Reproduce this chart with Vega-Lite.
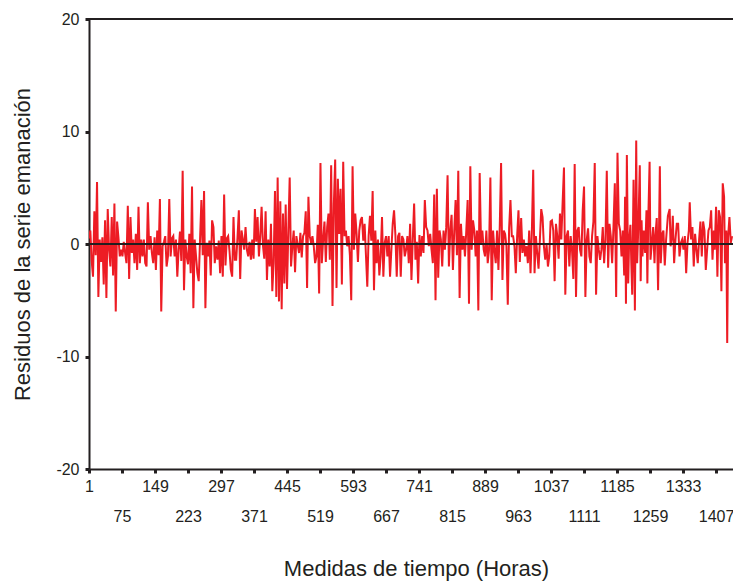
{
"$schema": "https://vega.github.io/schema/vega-lite/v6.json",
"width": 644, "height": 450,
"autosize": {"type": "none"},
"padding": {"left": 89, "top": 19, "right": 0, "bottom": 113},
"background": "white",
"config": {"view": {"stroke": null}, "font": "Liberation Sans",
  "axis": {"grid": false, "domainColor": "#231F20", "tickColor": "#231F20", "labelColor": "#231F20", "titleColor": "#231F20", "labelFontSize": 16, "titleFontSize": 22, "titleFontWeight": "normal", "tickSize": 4, "tickWidth": 3, "domainWidth": 2}},
"data": {"values": [
{"t":1,"r":0.5},{"t":4,"r":1.2},{"t":7,"r":-1.5},{"t":10,"r":-2.9},{"t":13,"r":2.9},{"t":16,"r":-1.0},{"t":19,"r":5.5},{"t":22,"r":-4.7},{"t":25,"r":0.4},{"t":28,"r":-1.6},{"t":31,"r":0.6},{"t":34,"r":-3.6},{"t":37,"r":2.1},{"t":40,"r":-4.8},{"t":43,"r":3.1},{"t":46,"r":-0.5},{"t":49,"r":-2.0},{"t":52,"r":2.4},{"t":55,"r":-2.8},{"t":58,"r":3.6},{"t":61,"r":-6.0},{"t":64,"r":2.0},{"t":67,"r":0.6},{"t":70,"r":-1.1},{"t":73,"r":-0.5},{"t":76,"r":-1.1},{"t":79,"r":0.2},{"t":82,"r":-0.8},{"t":85,"r":-1.7},{"t":88,"r":3.4},{"t":91,"r":-3.1},{"t":94,"r":2.4},{"t":97,"r":-0.8},{"t":100,"r":0.4},{"t":103,"r":-1.7},{"t":106,"r":0.9},{"t":109,"r":-2.3},{"t":112,"r":3.3},{"t":115,"r":-1.7},{"t":118,"r":0.4},{"t":121,"r":-1.1},{"t":124,"r":0.4},{"t":127,"r":-1.7},{"t":130,"r":-2.0},{"t":133,"r":3.7},{"t":136,"r":-0.5},{"t":139,"r":0.7},{"t":142,"r":-0.8},{"t":145,"r":-1.7},{"t":148,"r":0.6},{"t":151,"r":-2.3},{"t":154,"r":1.2},{"t":157,"r":-1.0},{"t":160,"r":4.0},{"t":163,"r":-6.0},{"t":166,"r":-0.2},{"t":169,"r":0.2},{"t":172,"r":0.7},{"t":175,"r":-2.0},{"t":178,"r":-1.1},{"t":181,"r":4.0},{"t":184,"r":-1.1},{"t":187,"r":0.5},{"t":190,"r":0.7},{"t":193,"r":-1.1},{"t":196,"r":0.4},{"t":199,"r":-2.9},{"t":202,"r":-0.5},{"t":205,"r":1.1},{"t":208,"r":-1.5},{"t":211,"r":6.5},{"t":214,"r":-4.1},{"t":217,"r":0.4},{"t":220,"r":-1.1},{"t":223,"r":-1.8},{"t":226,"r":0.9},{"t":229,"r":-2.6},{"t":232,"r":5.1},{"t":235,"r":-5.7},{"t":238,"r":0.4},{"t":241,"r":-1.1},
{"t":244,"r":-2.6},{"t":247,"r":-3.3},{"t":250,"r":0.4},{"t":253,"r":3.9},{"t":256,"r":-1.0},{"t":259,"r":4.7},{"t":262,"r":-5.7},{"t":265,"r":0.1},{"t":268,"r":-1.1},{"t":271,"r":0.3},{"t":274,"r":-2.8},{"t":277,"r":2.1},{"t":280,"r":1.5},{"t":283,"r":-1.7},{"t":286,"r":-0.2},{"t":289,"r":-1.4},{"t":292,"r":0.3},{"t":295,"r":-2.6},{"t":298,"r":0.7},{"t":301,"r":-2.9},{"t":304,"r":4.4},{"t":307,"r":-1.9},{"t":310,"r":0.5},{"t":313,"r":0.7},{"t":316,"r":-0.6},{"t":319,"r":-2.3},{"t":322,"r":-2.9},{"t":325,"r":2.4},{"t":328,"r":-1.4},{"t":331,"r":-1.4},{"t":334,"r":0.6},{"t":337,"r":3.0},{"t":340,"r":-3.1},{"t":343,"r":1.2},{"t":346,"r":0.4},{"t":349,"r":-0.5},{"t":352,"r":1.5},{"t":355,"r":-0.5},{"t":358,"r":-1.1},{"t":361,"r":0.2},{"t":364,"r":-1.4},{"t":367,"r":0.4},{"t":370,"r":-1.3},{"t":373,"r":3.1},{"t":376,"r":0.2},{"t":379,"r":2.4},{"t":382,"r":-1.1},{"t":385,"r":0.7},{"t":388,"r":3.3},{"t":391,"r":-0.1},{"t":394,"r":-1.3},{"t":397,"r":2.9},{"t":400,"r":-3.2},{"t":403,"r":0.4},{"t":406,"r":-2.0},{"t":409,"r":1.8},{"t":412,"r":-4.2},{"t":415,"r":-1.7},{"t":418,"r":4.7},{"t":421,"r":-4.7},{"t":424,"r":5.9},{"t":427,"r":-5.1},{"t":430,"r":3.8},{"t":433,"r":-5.8},{"t":436,"r":2.7},{"t":439,"r":-3.5},{"t":442,"r":3.5},{"t":445,"r":-4.0},{"t":448,"r":1.2},{"t":451,"r":5.9},{"t":454,"r":-2.0},{"t":457,"r":-0.2},{"t":460,"r":1.2},{"t":463,"r":-2.5},{"t":466,"r":0.7},{"t":469,"r":-0.1},{"t":472,"r":-0.8},{"t":475,"r":1.0},{"t":478,"r":-1.2},{"t":481,"r":0.7},
{"t":484,"r":1.0},{"t":487,"r":2.9},{"t":490,"r":-3.9},{"t":493,"r":4.2},{"t":496,"r":0.7},{"t":499,"r":0.1},{"t":502,"r":0.7},{"t":505,"r":-0.2},{"t":508,"r":-1.7},{"t":511,"r":-1.1},{"t":514,"r":1.7},{"t":517,"r":-4.4},{"t":520,"r":7.2},{"t":523,"r":-1.7},{"t":526,"r":0.4},{"t":529,"r":2.0},{"t":532,"r":-1.6},{"t":535,"r":1.5},{"t":538,"r":2.7},{"t":541,"r":-1.4},{"t":544,"r":7.0},{"t":547,"r":-5.5},{"t":550,"r":3.5},{"t":553,"r":7.5},{"t":556,"r":-3.9},{"t":559,"r":5.8},{"t":562,"r":0.9},{"t":565,"r":4.9},{"t":568,"r":-3.6},{"t":571,"r":7.3},{"t":574,"r":0.7},{"t":577,"r":1.2},{"t":580,"r":-0.2},{"t":583,"r":0.7},{"t":586,"r":-1.0},{"t":589,"r":-5.0},{"t":592,"r":6.9},{"t":595,"r":-0.5},{"t":598,"r":2.7},{"t":601,"r":0.9},{"t":604,"r":-1.6},{"t":607,"r":1.2},{"t":610,"r":2.1},{"t":613,"r":2.4},{"t":616,"r":0.3},{"t":619,"r":1.8},{"t":622,"r":-1.0},{"t":625,"r":-3.8},{"t":628,"r":0.7},{"t":631,"r":2.5},{"t":634,"r":0.3},{"t":637,"r":4.7},{"t":640,"r":-4.1},{"t":643,"r":1.2},{"t":646,"r":-1.7},{"t":649,"r":0.4},{"t":652,"r":-2.8},{"t":655,"r":-1.1},{"t":658,"r":2.4},{"t":661,"r":-2.9},{"t":664,"r":0.1},{"t":667,"r":0.7},{"t":670,"r":-1.1},{"t":673,"r":0.7},{"t":676,"r":-2.9},{"t":679,"r":-0.5},{"t":682,"r":1.8},{"t":685,"r":3.0},{"t":688,"r":0.8},{"t":691,"r":-2.9},{"t":694,"r":0.7},{"t":697,"r":1.0},{"t":700,"r":-2.9},{"t":703,"r":0.7},{"t":706,"r":0.4},{"t":709,"r":-1.1},{"t":712,"r":-0.5},{"t":715,"r":0.7},{"t":718,"r":-1.7},{"t":721,"r":1.8},
{"t":724,"r":-3.2},{"t":727,"r":0.4},{"t":730,"r":3.6},{"t":733,"r":-1.4},{"t":736,"r":0.2},{"t":739,"r":-3.5},{"t":742,"r":0.8},{"t":745,"r":-1.1},{"t":748,"r":0.7},{"t":751,"r":-0.8},{"t":754,"r":3.9},{"t":757,"r":1.5},{"t":760,"r":1.2},{"t":763,"r":-0.2},{"t":766,"r":0.9},{"t":769,"r":-0.5},{"t":772,"r":-1.7},{"t":775,"r":4.4},{"t":778,"r":-5.0},{"t":781,"r":4.9},{"t":784,"r":-3.0},{"t":787,"r":1.2},{"t":790,"r":0.4},{"t":793,"r":-2.0},{"t":796,"r":1.2},{"t":799,"r":-0.5},{"t":802,"r":1.5},{"t":805,"r":6.1},{"t":808,"r":-2.0},{"t":811,"r":1.2},{"t":814,"r":2.6},{"t":817,"r":-2.3},{"t":820,"r":1.2},{"t":823,"r":3.9},{"t":826,"r":-1.0},{"t":829,"r":6.5},{"t":832,"r":-4.8},{"t":835,"r":1.8},{"t":838,"r":-0.5},{"t":841,"r":0.7},{"t":844,"r":-1.1},{"t":847,"r":1.2},{"t":850,"r":3.9},{"t":853,"r":-5.3},{"t":856,"r":6.9},{"t":859,"r":-0.5},{"t":862,"r":2.1},{"t":865,"r":1.2},{"t":868,"r":-1.1},{"t":871,"r":1.2},{"t":874,"r":-5.9},{"t":877,"r":6.3},{"t":880,"r":0.1},{"t":883,"r":1.2},{"t":886,"r":-0.5},{"t":889,"r":-1.1},{"t":892,"r":1.2},{"t":895,"r":-1.7},{"t":898,"r":-0.5},{"t":901,"r":5.9},{"t":904,"r":-5.0},{"t":907,"r":1.2},{"t":910,"r":-0.5},{"t":913,"r":-1.7},{"t":916,"r":1.2},{"t":919,"r":-2.3},{"t":922,"r":1.5},{"t":925,"r":7.2},{"t":928,"r":-3.2},{"t":931,"r":1.2},{"t":934,"r":0.9},{"t":937,"r":-0.2},{"t":940,"r":-5.4},{"t":943,"r":1.4},{"t":946,"r":3.9},{"t":949,"r":0.7},{"t":952,"r":0.7},{"t":955,"r":-0.2},{"t":958,"r":-2.6},{"t":961,"r":0.7},
{"t":964,"r":3.0},{"t":967,"r":-1.6},{"t":970,"r":2.3},{"t":973,"r":-0.8},{"t":976,"r":0.4},{"t":979,"r":-1.1},{"t":982,"r":-0.2},{"t":985,"r":-1.7},{"t":988,"r":1.2},{"t":991,"r":-2.6},{"t":994,"r":1.1},{"t":997,"r":6.6},{"t":1000,"r":-2.6},{"t":1003,"r":0.7},{"t":1006,"r":-0.8},{"t":1009,"r":-2.2},{"t":1012,"r":0.4},{"t":1015,"r":3.1},{"t":1018,"r":2.4},{"t":1021,"r":-0.2},{"t":1024,"r":-1.4},{"t":1027,"r":0.0},{"t":1030,"r":-2.0},{"t":1033,"r":-1.1},{"t":1036,"r":2.0},{"t":1039,"r":2.1},{"t":1042,"r":1.2},{"t":1045,"r":-3.3},{"t":1048,"r":1.8},{"t":1051,"r":0.7},{"t":1054,"r":-1.3},{"t":1057,"r":2.7},{"t":1060,"r":0.4},{"t":1063,"r":3.7},{"t":1066,"r":6.8},{"t":1069,"r":-4.5},{"t":1072,"r":0.7},{"t":1075,"r":1.2},{"t":1078,"r":-2.0},{"t":1081,"r":0.7},{"t":1084,"r":-0.5},{"t":1087,"r":-3.1},{"t":1090,"r":7.1},{"t":1093,"r":-4.7},{"t":1096,"r":1.2},{"t":1099,"r":1.5},{"t":1102,"r":-0.5},{"t":1105,"r":-1.1},{"t":1108,"r":3.0},{"t":1111,"r":5.1},{"t":1114,"r":-4.7},{"t":1117,"r":0.4},{"t":1120,"r":1.4},{"t":1123,"r":-1.1},{"t":1126,"r":-1.7},{"t":1129,"r":0.7},{"t":1132,"r":2.0},{"t":1135,"r":7.2},{"t":1138,"r":-4.5},{"t":1141,"r":0.7},{"t":1144,"r":-0.5},{"t":1147,"r":-1.4},{"t":1150,"r":-0.5},{"t":1153,"r":1.5},{"t":1156,"r":-1.7},{"t":1159,"r":0.4},{"t":1162,"r":6.5},{"t":1165,"r":-2.1},{"t":1168,"r":1.8},{"t":1171,"r":0.7},{"t":1174,"r":-1.7},{"t":1177,"r":1.5},{"t":1180,"r":5.4},{"t":1183,"r":-4.7},{"t":1186,"r":8.1},{"t":1189,"r":1.8},{"t":1192,"r":1.2},{"t":1195,"r":-1.1},{"t":1198,"r":1.2},{"t":1201,"r":-2.8},
{"t":1203,"r":4.2},{"t":1205,"r":-5.3},{"t":1207,"r":7.9},{"t":1210,"r":-3.5},{"t":1212,"r":0.1},{"t":1215,"r":1.7},{"t":1217,"r":-1.7},{"t":1219,"r":-4.5},{"t":1222,"r":5.7},{"t":1225,"r":-5.9},{"t":1228,"r":9.2},{"t":1230,"r":-1.7},{"t":1233,"r":1.8},{"t":1236,"r":7.0},{"t":1238,"r":-3.3},{"t":1240,"r":2.1},{"t":1242,"r":-1.1},{"t":1245,"r":1.2},{"t":1248,"r":-0.8},{"t":1251,"r":3.0},{"t":1253,"r":-3.5},{"t":1255,"r":2.1},{"t":1258,"r":7.3},{"t":1260,"r":-1.4},{"t":1263,"r":0.1},{"t":1266,"r":1.5},{"t":1269,"r":-1.7},{"t":1271,"r":0.7},{"t":1274,"r":2.3},{"t":1277,"r":-4.1},{"t":1279,"r":0.9},{"t":1281,"r":6.9},{"t":1283,"r":-1.7},{"t":1286,"r":0.9},{"t":1289,"r":1.2},{"t":1292,"r":-1.9},{"t":1295,"r":0.4},{"t":1299,"r":2.5},{"t":1303,"r":3.1},{"t":1305,"r":-0.2},{"t":1308,"r":0.7},{"t":1310,"r":2.5},{"t":1313,"r":-1.7},{"t":1316,"r":0.4},{"t":1319,"r":1.8},{"t":1322,"r":1.8},{"t":1325,"r":-1.1},{"t":1328,"r":0.1},{"t":1331,"r":0.4},{"t":1334,"r":-0.5},{"t":1337,"r":0.7},{"t":1340,"r":-2.6},{"t":1343,"r":0.1},{"t":1346,"r":1.2},{"t":1348,"r":3.7},{"t":1351,"r":0.4},{"t":1354,"r":1.5},{"t":1357,"r":-2.0},{"t":1360,"r":0.9},{"t":1363,"r":-0.5},{"t":1366,"r":-1.7},{"t":1369,"r":0.4},{"t":1372,"r":2.0},{"t":1375,"r":-1.1},{"t":1378,"r":2.0},{"t":1381,"r":1.2},{"t":1384,"r":-2.3},{"t":1387,"r":-0.5},{"t":1390,"r":1.2},{"t":1393,"r":1.5},{"t":1396,"r":3.0},{"t":1399,"r":-1.4},{"t":1402,"r":1.2},{"t":1404,"r":-0.5},{"t":1407,"r":3.3},{"t":1410,"r":-2.9},{"t":1413,"r":3.0},{"t":1416,"r":2.4},{"t":1419,"r":-4.2},{"t":1422,"r":5.4},{"t":1425,"r":4.2},{"t":1427,"r":-1.7},{"t":1430,"r":1.2},{"t":1432,"r":-8.8},{"t":1434,"r":0.6},{"t":1437,"r":2.4},{"t":1440,"r":0.1},{"t":1443,"r":0.7}
]},
"layer": [
{"mark": {"type": "line", "color": "#ED1C24", "strokeWidth": 2, "clip": true},
 "encoding": {
  "x": {"field": "t", "type": "quantitative", "scale": {"domain": [1, 1445], "nice": false, "zero": false},
   "axis": {"values": [1,75,149,223,297,371,445,519,593,667,741,815,889,963,1037,1111,1185,1259,1333,1407], "format": "d",
    "labelExpr": "((datum.value - 1) / 74) % 2 == 1 ? ['', datum.label] : datum.label",
    "labelLineHeight": 30, "labelBaseline": "top", "labelPadding": 5, "labelOverlap": false, "labelFlush": false,
    "title": "Medidas de tiempo (Horas)", "titleX": 327, "titleY": 99, "titleAlign": "center", "titleBaseline": "middle", "titleAnchor": null}},
  "y": {"field": "r", "type": "quantitative", "scale": {"domain": [-20, 20], "nice": false, "zero": false},
   "axis": {"values": [-20, -10, 0, 10, 20], "labelPadding": 6,
    "labelExpr": "datum.value < 0 ? '-' + abs(datum.value) : '' + datum.value",
    "title": "Residuos de la serie emanación", "titleX": -67, "titleY": 225, "titleAlign": "center", "titleBaseline": "middle", "titleAngle": -90}}}},
{"mark": {"type": "rule", "color": "#231F20", "strokeWidth": 1.6}, "encoding": {"y": {"datum": 0}}},
{"mark": {"type": "rule", "color": "#231F20", "strokeWidth": 2}, "encoding": {"y": {"datum": 20}}}
]
}
